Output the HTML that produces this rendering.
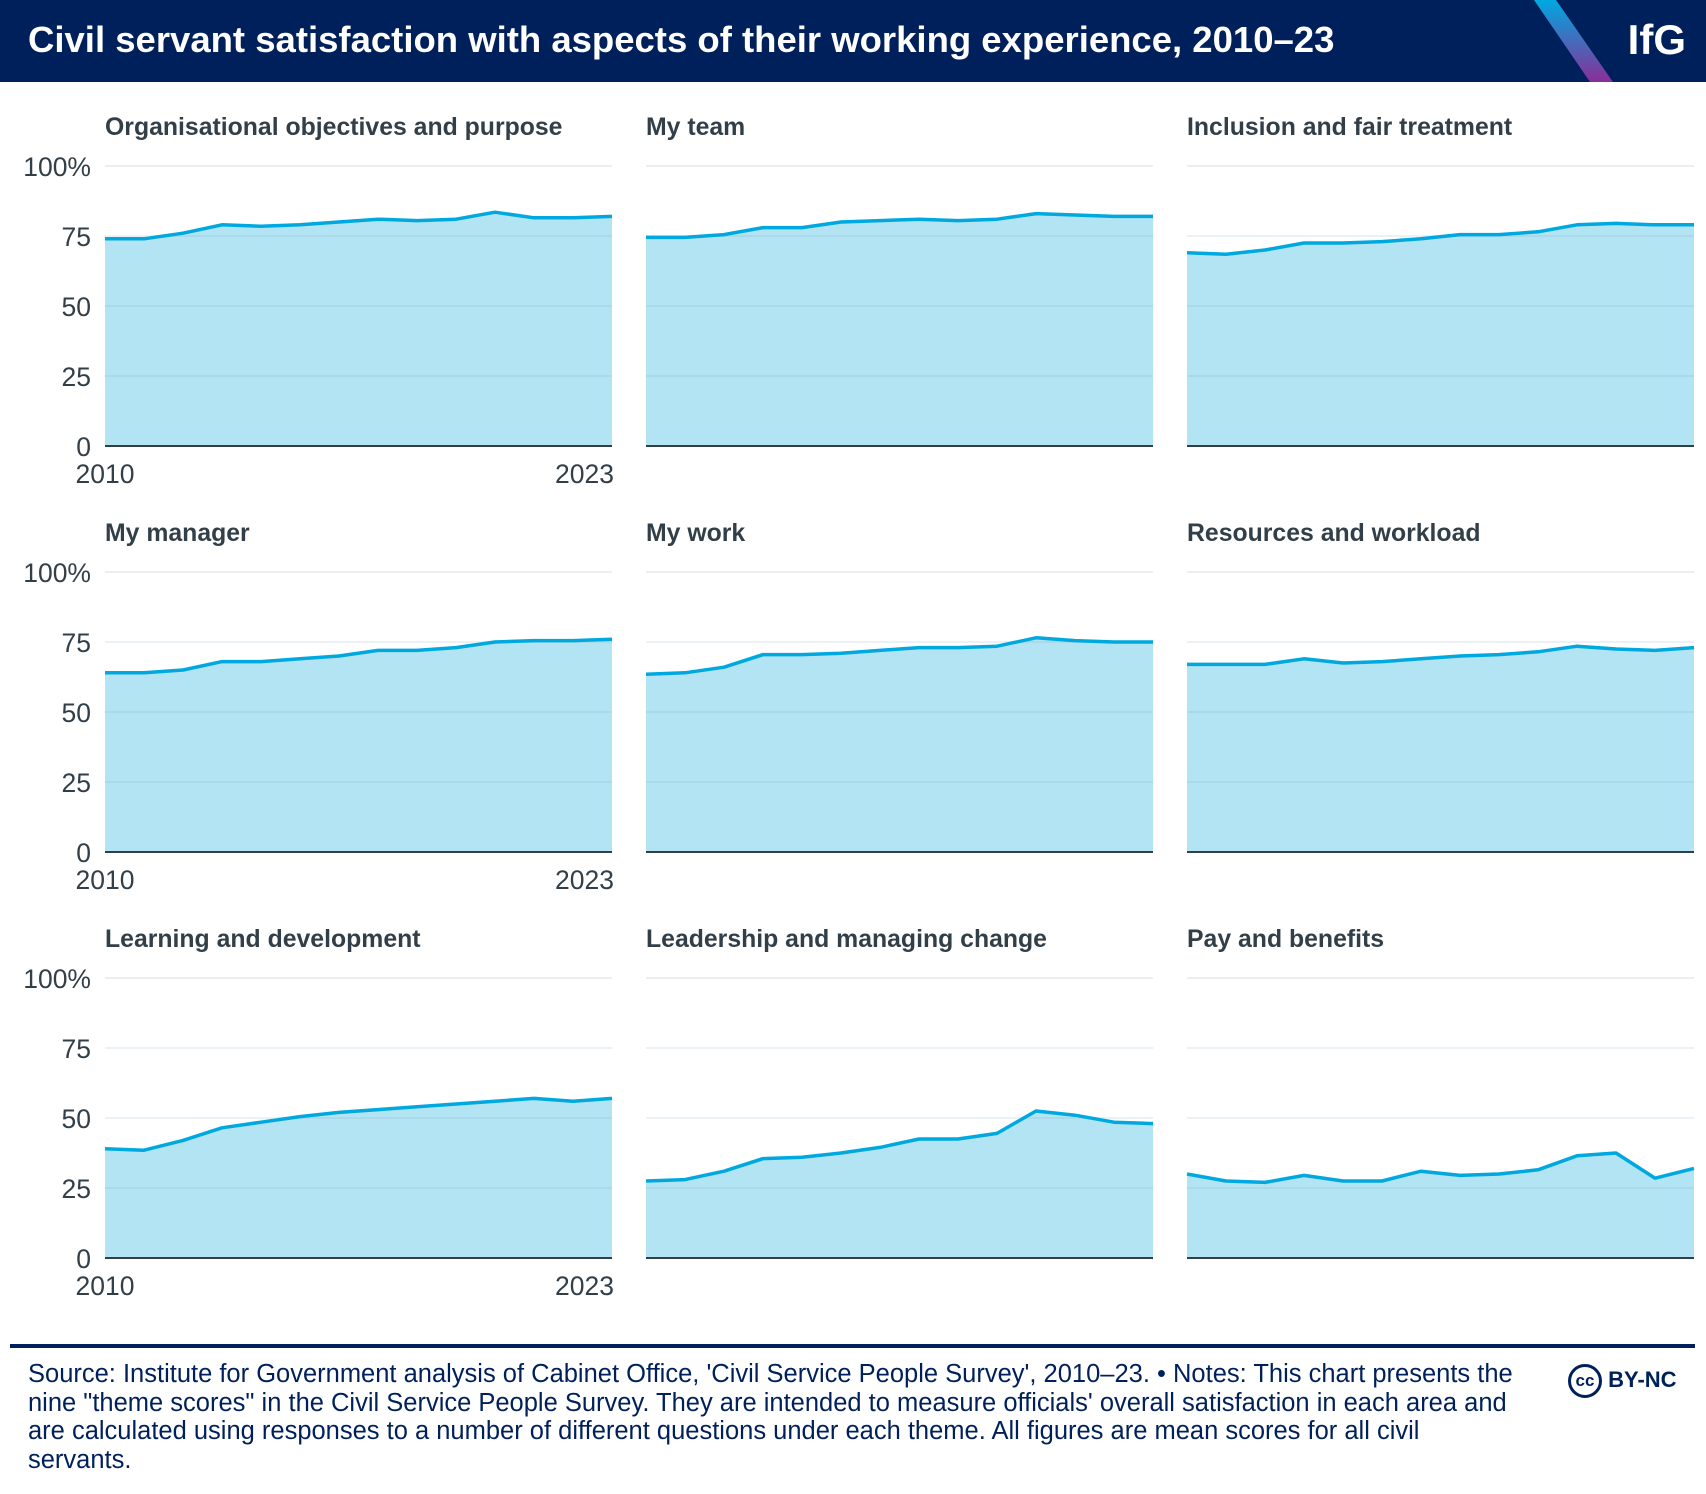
<!DOCTYPE html>
<html><head><meta charset="utf-8">
<style>
body{margin:0;width:1706px;height:1494px;background:#fff;font-family:"Liberation Sans",sans-serif;overflow:hidden;position:relative}
#hdr{position:absolute;left:0;top:0;width:1706px;height:82px;background:#00205b}
#ttl{position:absolute;left:28px;top:19px;color:#fff;font-weight:bold;font-size:36.5px}
#logo{position:absolute;right:20px;top:16px;color:#fff;font-weight:bold;font-size:42px}
#rule{position:absolute;left:10px;top:1344px;width:1685px;height:4px;background:#00205b}
#foot{position:absolute;left:28px;top:1360px;width:1520px;color:#00205b;font-size:25.5px;line-height:28.5px;white-space:nowrap}
#cc{position:absolute;left:1568px;top:1364px;color:#00205b;font-weight:bold;font-size:22px}
</style></head><body>
<div id="hdr">
<svg width="1706" height="82" style="position:absolute;left:0;top:0">
<defs><linearGradient id="g" x1="0" y1="0" x2="0" y2="1"><stop offset="0" stop-color="#00a8e0"/><stop offset="1" stop-color="#8a2e98"/></linearGradient></defs>
<polygon points="1534,0 1556,0 1613,82 1590,82" fill="url(#g)"/></svg>
<div id="ttl">Civil servant satisfaction with aspects of their working experience, 2010–23</div>
<div id="logo">IfG</div>
</div>
<svg id="chart" width="1706" height="1340" style="position:absolute;left:0;top:0"></svg>
<div id="rule"></div>
<div id="foot">Source: Institute for Government analysis of Cabinet Office, 'Civil Service People Survey', 2010–23. • Notes: This chart presents the<br>nine "theme scores" in the Civil Service People Survey. They are intended to measure officials' overall satisfaction in each area and<br>are calculated using responses to a number of different questions under each theme. All figures are mean scores for all civil<br>servants.</div>
<div id="cc"><span style="display:inline-block;width:34px;height:34px;border:3px solid #00205b;border-radius:50%;text-align:center;line-height:28px;font-size:17px;box-sizing:border-box;vertical-align:middle">cc</span> BY-NC</div>
<script>
const years=[2010,2011,2012,2013,2014,2015,2016,2017,2018,2019,2020,2021,2022,2023];
const titles=["Organisational objectives and purpose","My team","Inclusion and fair treatment","My manager","My work","Resources and workload","Learning and development","Leadership and managing change","Pay and benefits"];
const s0=[74,74,76,79,78.5,79,80,81,80.5,81,83.5,81.5,81.5,82];
const s1=[74.5,74.5,75.5,78,78,80,80.5,81,80.5,81,83,82.5,82,82];
const s2=[69,68.5,70,72.5,72.5,73,74,75.5,75.5,76.5,79,79.5,79,79];
const s3=[64,64,65,68,68,69,70,72,72,73,75,75.5,75.5,76];
const s4=[63.5,64,66,70.5,70.5,71,72,73,73,73.5,76.5,75.5,75,75];
const s5=[67,67,67,69,67.5,68,69,70,70.5,71.5,73.5,72.5,72,73];
const s6=[39,38.5,42,46.5,48.5,50.5,52,53,54,55,56,57,56,57];
const s7=[27.5,28,31,35.5,36,37.5,39.5,42.5,42.5,44.5,52.5,51,48.5,48];
const s8=[30,27.5,27,29.5,27.5,27.5,31,29.5,30,31.5,36.5,37.5,28.5,32];
const series=[s0,s1,s2,s3,s4,s5,s6,s7,s8];
const ticks=[0,25,50,75,100];
const NS="http://www.w3.org/2000/svg";
const svg=document.getElementById('chart');
const colX=[105,646,1187], rowTop=[166,572,978], W=507, H=280;
function mk(t,a,p){const e=document.createElementNS(NS,t);for(const k in a)e.setAttribute(k,a[k]);(p||svg).appendChild(e);return e;}
series.forEach((vals,i)=>{
  const c=i%3,r=Math.floor(i/3),x0=colX[c],y0=rowTop[r];
  const g=mk('g',{});
  
  
  const xs=yr=>x0+(yr-years[0])/(years[years.length-1]-years[0])*W;
  const ys=v=>y0+H-v/100*H;
  const t=mk('text',{x:x0,y:y0-31,'font-size':24.8,'font-weight':'bold',fill:'#333f48'},g);t.textContent=titles[i];
  
  
  let d='M'+xs(years[0])+','+ys(0);
  years.forEach((yr,j)=>d+=' L'+xs(yr)+','+ys(vals[j]));
  d+=' L'+xs(years[years.length-1])+','+ys(0)+'Z';
  const a=mk('path',{d:d,fill:'#b3e4f4'},g);
  
  
  ticks.forEach(tv=>{
    if(tv>0){const gl=mk('line',{x1:x0,x2:x0+W,y1:ys(tv),y2:ys(tv),stroke:tv===100?'#eeeeee':'rgba(120,160,180,0.15)','stroke-width':2},g);
      
      }
    if(c===0){const tl=mk('text',{x:91,y:ys(tv)+10,'font-size':26.5,'text-anchor':'end',fill:'#333f48'},g);tl.textContent=tv===100?'100%':tv;
      
      }
  });
  const ln=mk('polyline',{points:years.map((yr,j)=>xs(yr)+','+ys(vals[j])).join(' '),fill:'none',stroke:'#00a8e0','stroke-width':3.5,'stroke-linejoin':'round'},g);
  
  
  const ax=mk('line',{x1:x0,x2:x0+W,y1:ys(0),y2:ys(0),stroke:'#333f48','stroke-width':2},g);
  
  
  if(c===0){
    [[years[0],'middle'],[years[years.length-1],'end']].forEach(([yr,an])=>{
      const xl=mk('text',{x:an==='middle'?xs(yr):xs(yr)+2,y:ys(0)+37,'font-size':26.5,'text-anchor':an,fill:'#333f48'},g);
      xl.textContent=yr;
      
      
    });
  }
});
</script>
</body></html>
